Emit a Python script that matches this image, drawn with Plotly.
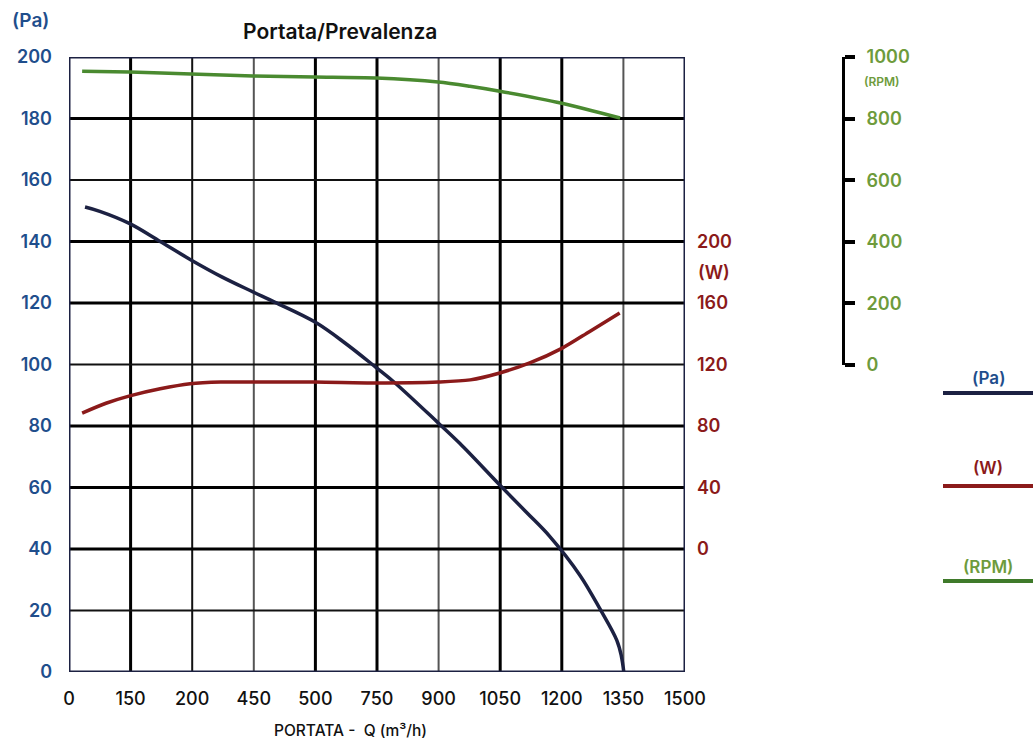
import plotly.graph_objects as go

# ---- data (x in m3/h on uniform 0..1500 grid) ----
q_pa = [39, 75, 148, 222, 297, 372, 448, 502, 599, 672, 748, 794, 899, 952, 1049, 1115, 1170, 1244, 1293, 1334, 1345, 1351]
pa   = [151.2, 149.8, 145.8, 140, 134, 128.5, 123.6, 120.2, 113.8, 107, 99, 94, 81, 74.3, 60.8, 51.8, 44.2, 31.5, 20.5, 10.3, 5.2, 0]

q_w = [32, 90, 148, 222, 295, 370, 448, 599, 748, 899, 977, 1049, 1122, 1200, 1268, 1341]
w   = [88.4, 94.8, 99.6, 104.2, 107.5, 108.6, 108.6, 108.6, 108, 108.6, 110, 114.5, 121, 130.5, 141.5, 153.5]

q_rpm = [32, 148, 297, 448, 599, 748, 899, 976, 1049, 1200, 1342]
rpm   = [954, 951, 945, 938, 935, 932, 919, 905, 889, 850, 802]

x_tickvals = [0, 150, 300, 450, 600, 750, 900, 1050, 1200, 1350, 1500]
x_ticktext = ["0", "150", "200", "450", "500", "750", "900", "1050", "1200", "1350", "1500"]
pa_ticks = list(range(0, 201, 20))
w_ticks = [0, 40, 80, 120, 160, 200]
rpm_ticks = [0, 200, 400, 600, 800, 1000]

grid_x_thick = [150, 600, 750, 1050, 1200]
grid_x_thin = [300]
grid_x_gray = [450, 900, 1350]
grid_y_thick = [180, 140, 120, 80, 60, 40]
grid_y_thin = [160, 100, 20]

C_PA = "#1c2142"
C_W = "#8b1a1a"
C_RPM = "#4a8a30"
BLUE = "#1f4e8c"
GREEN = "#6e9b3c"
FONT = "Inter"

W_TOTAL, H_TOTAL = 1033, 740
ML, MT, MB = 69, 57, 68
PW = W_TOTAL - ML
PH = H_TOTAL - MT - MB
def px(xp):
    return (xp - ML) / PW
def py(yp):
    return (H_TOTAL - MB - yp) / PH

fig = go.Figure()
fig.add_trace(go.Scatter(x=q_pa, y=pa, mode="lines", line=dict(color=C_PA, width=3.5, shape="spline", smoothing=1.0),
                         xaxis="x", yaxis="y", hoverinfo="skip", showlegend=False))
fig.add_trace(go.Scatter(x=q_w, y=w, mode="lines", line=dict(color=C_W, width=3.5, shape="spline", smoothing=0.8),
                         xaxis="x", yaxis="y2", hoverinfo="skip", showlegend=False))
fig.add_trace(go.Scatter(x=q_rpm, y=rpm, mode="lines", line=dict(color=C_RPM, width=3.5, shape="spline", smoothing=0.8),
                         xaxis="x", yaxis="y3", hoverinfo="skip", showlegend=False))

shapes = []
for v in grid_x_thick:
    shapes.append(dict(type="line", xref="x", yref="y", x0=v, x1=v, y0=0, y1=200, line=dict(color="#000", width=3), layer="below"))
for v in grid_x_thin:
    shapes.append(dict(type="line", xref="x", yref="y", x0=v, x1=v, y0=0, y1=200, line=dict(color="#111", width=2), layer="below"))
for v in grid_x_gray:
    shapes.append(dict(type="line", xref="x", yref="y", x0=v, x1=v, y0=0, y1=200, line=dict(color="#555", width=2), layer="below"))
for v in grid_y_thick:
    shapes.append(dict(type="line", xref="x", yref="y", x0=0, x1=1500, y0=v, y1=v, line=dict(color="#000", width=3), layer="below"))
for v in grid_y_thin:
    shapes.append(dict(type="line", xref="x", yref="y", x0=0, x1=1500, y0=v, y1=v, line=dict(color="#111", width=2), layer="below"))
shapes.append(dict(type="rect", xref="x", yref="y", x0=0, x1=1500, y0=0, y1=200, line=dict(color=C_PA, width=3)))

# legend marks
for ypix, col in [(393, C_PA), (486, C_W), (581, "#3f7a2a")]:
    shapes.append(dict(type="line", xref="paper", yref="paper", x0=px(943), x1=1.0, y0=py(ypix), y1=py(ypix),
                       line=dict(color=col, width=4)))

ann = []
ann.append(dict(text="(Pa)", xref="paper", yref="paper", x=px(10), y=py(21), xanchor="left", yanchor="middle",
                showarrow=False, font=dict(family=FONT, size=19, color=BLUE, weight=600)))
ann.append(dict(text="Portata/Prevalenza", xref="paper", yref="paper", x=px(340), y=py(32), xanchor="center", yanchor="middle",
                showarrow=False, font=dict(family=FONT, size=21, color="#111", weight=600)))
ann.append(dict(text="PORTATA -  Q (m³/h)", xref="paper", yref="paper", x=px(350), y=py(730), xanchor="center", yanchor="middle",
                showarrow=False, font=dict(family=FONT, size=15.5, color="#111", weight=500)))
ann.append(dict(text="(W)", xref="paper", yref="y2", x=px(696), y=180, xanchor="left", yanchor="middle",
                showarrow=False, font=dict(family=FONT, size=18, color=C_W, weight=600)))
ann.append(dict(text="(RPM)", xref="paper", yref="y3", x=px(862), y=922, xanchor="left", yanchor="middle",
                showarrow=False, font=dict(family=FONT, size=12, color=GREEN, weight=600)))
for txt, ypix, col in [("(Pa)", 378, BLUE), ("(W)", 468, C_W), ("(RPM)", 567, GREEN)]:
    ann.append(dict(text=txt, xref="paper", yref="paper", x=px(988), y=py(ypix), xanchor="center", yanchor="middle",
                    showarrow=False, font=dict(family=FONT, size=17, color=col, weight=600)))

fig.update_layout(
    width=W_TOTAL, height=H_TOTAL, autosize=False,
    margin=dict(l=ML, r=0, t=MT, b=MB, pad=0, autoexpand=False),
    paper_bgcolor="white", plot_bgcolor="rgba(0,0,0,0)",
    showlegend=False,
    xaxis=dict(domain=[0, 616 / PW], range=[0, 1500], tickmode="array", tickvals=x_tickvals, ticktext=x_ticktext,
               showgrid=False, zeroline=False, showline=False, ticks="", ticklabelstandoff=14, automargin=False,
               tickfont=dict(family=FONT, size=18, color="#111", weight=500), fixedrange=True),
    yaxis=dict(range=[0, 200], tickmode="array", tickvals=pa_ticks, showgrid=False, zeroline=False, showline=False,
               ticks="", ticklabelstandoff=16, automargin=False,
               tickfont=dict(family=FONT, size=18, color=BLUE, weight=600), fixedrange=True),
    yaxis2=dict(overlaying="y", side="right", anchor="x", range=[-80, 320], tickmode="array", tickvals=w_ticks,
                showgrid=False, zeroline=False, showline=False, ticks="", ticklabelstandoff=11, automargin=False,
                tickfont=dict(family=FONT, size=18, color=C_W, weight=600), fixedrange=True),
    yaxis3=dict(anchor="free", position=(843 - ML) / PW, side="right", domain=[py(365), 1.0], range=[0, 1000],
                tickmode="array", tickvals=rpm_ticks, showgrid=False, zeroline=False, automargin=False,
                showline=True, linecolor="#000", linewidth=3, ticks="outside", ticklen=10, tickwidth=4, tickcolor="#000",
                ticklabelstandoff=8, tickfont=dict(family=FONT, size=18, color=GREEN, weight=600), fixedrange=True),
    shapes=shapes,
    annotations=ann,
)

fig.write_html("out.html", config={"responsive": False, "displayModeBar": False},
               post_script="document.body.style.margin='0px';")
